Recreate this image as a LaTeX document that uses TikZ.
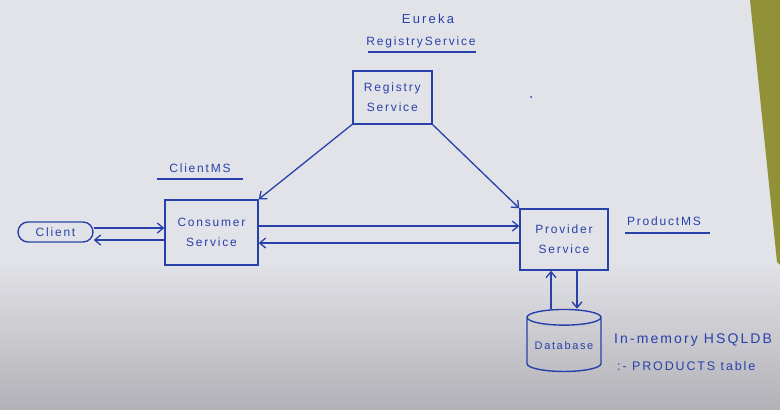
\documentclass[tikz,border=0pt]{standalone}
\usepackage{fontspec}
\newfontfamily\hand[LetterSpace=15]{Liberation Sans}
\usetikzlibrary{arrows.meta,shapes.geometric}
\definecolor{ink}{RGB}{40,65,170}
\definecolor{paper}{RGB}{226,227,232}
\definecolor{shade}{RGB}{178,177,183}
\definecolor{edge}{RGB}{145,145,55}
\tikzset{
  box/.style={draw=ink, line width=1.4pt, text=ink, font=\hand\fontsize{12}{20}\selectfont, align=center, inner sep=2pt},
  lab/.style={text=ink, font=\hand\fontsize{12}{14}\selectfont, inner sep=1pt},
  arr/.style={draw=ink, line width=1.3pt, -{Straight Barb[length=6pt,width=10pt]}},
  uline/.style={draw=ink, line width=1.3pt}
}
\begin{document}
\begin{tikzpicture}[x=1pt,y=-1pt]
\useasboundingbox (0,0) rectangle (780,410);
\begin{scope}
\clip (0,0) rectangle (780,410);
\fill[paper] (0,0) rectangle (780,410);
\shade[top color=paper, bottom color=shade] (0,260) rectangle (780,410);
\fill[edge] (750,0) -- (780,0) -- (780,265) -- (777,262) -- cycle;
% titles
\node[lab, font=\hand\fontsize{13}{15}\selectfont] (eureka) at (428,19) {E\,u\,r\,e\,k\,a};
\node[lab] (regtitle) at (421,42) {RegistryService};
\draw[uline] (368,52) -- (476,52);
\node[lab] (clientms) at (200,168) {ClientMS};
\draw[uline] (157,179) -- (243,179);
\node[lab] (productms) at (664,221) {ProductMS};
\draw[uline] (625,233) -- (710,233);
% boxes
\node[box, minimum width=79, minimum height=53] (reg) at (392.3,97.3) {Registry\\Service};
\node[box, minimum width=93, minimum height=65] (cons) at (211.5,232.5) {Consumer\\Service};
\node[box, minimum width=88, minimum height=61] (prov) at (564,239.5) {Provider\\Service};
\node[box, rounded corners=10pt, minimum width=75, minimum height=20, inner sep=1pt] (client) at (55.5,232) {Client};
\node[box, cylinder, shape border rotate=90, aspect=0.25, minimum width=74, minimum height=62, font=\hand\fontsize{11}{13}\selectfont] (db) at (564,346) {Database};
% dot
\fill[ink] (531,97) circle (1);
% db labels
\node[lab, anchor=west, font=\hand\fontsize{14}{16}\selectfont] (hsql) at (613,340) {In-memory HSQLDB};
\node[lab, anchor=west, font=\hand\fontsize{12.5}{15}\selectfont] (prodtab) at (616,366) {:- PRODUCTS table};
% connectors
\draw[arr] (client.east |- 0,228) -- (cons.west |- 0,228);
\draw[arr] (cons.west |- 0,240) -- (client.east |- 0,240);
\draw[arr] (cons.east |- 0,226) -- (prov.west |- 0,226);
\draw[arr] (prov.west |- 0,243) -- (cons.east |- 0,243);
\draw[arr] (reg.south west) -- (cons.north east);
\draw[arr] (reg.south east) -- (prov.north west);
\draw[arr] (db.north -| 551,0) -- (prov.south -| 551,0);
\draw[arr] (prov.south -| 577,0) -- (db.north -| 577,0);
\end{scope}
\end{tikzpicture}
\end{document}
